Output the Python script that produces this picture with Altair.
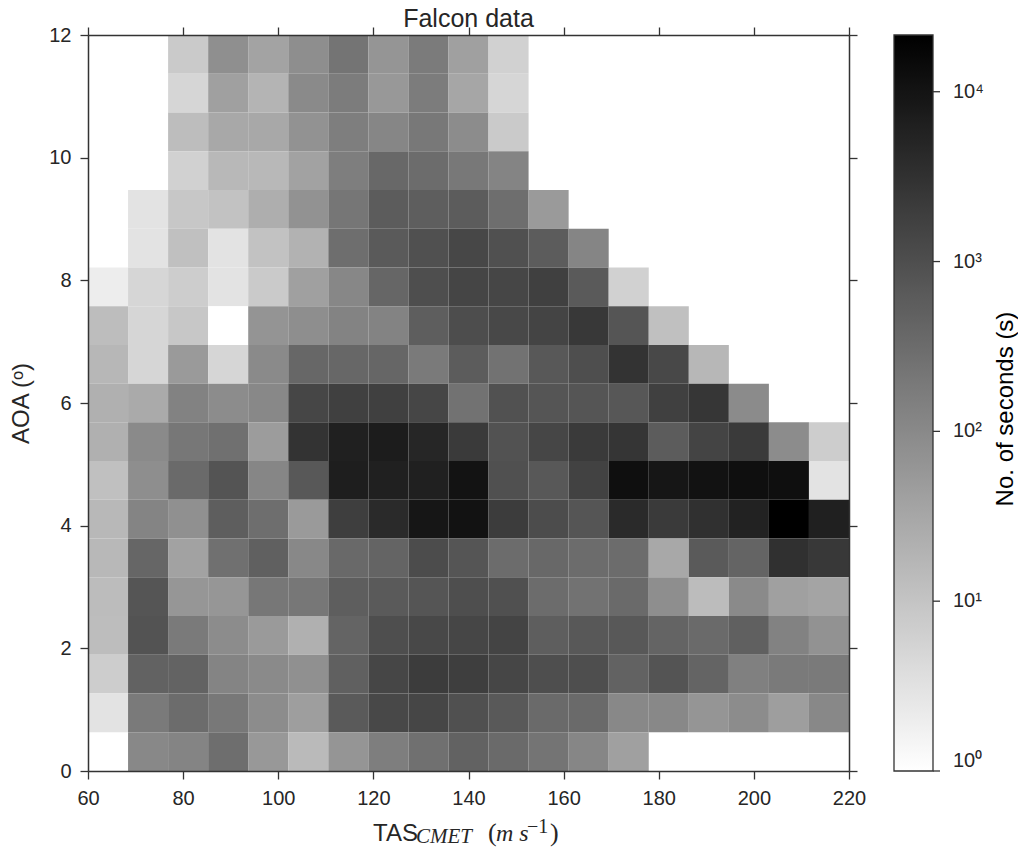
import altair as alt
import numpy as np
import pandas as pd

# ---- data -------------------------------------------------------------
# bin edges of the 2-D histogram (19 x 19 bins)
TAS_EDGES = np.linspace(60, 220, 20)   # m s-1
AOA_EDGES = np.linspace(0, 12, 20)     # degrees

X_TICKS = [60, 80, 100, 120, 140, 160, 180, 200, 220]
Y_TICKS = [0, 2, 4, 6, 8, 10, 12]
CB_TICKS = [1, 10, 100, 1000, 10000]
CB_MAX = 21580

N = None
# No. of seconds per bin; rows listed from the top AOA bin (11.4-12) down to 0-0.63,
# columns from TAS 60 to 220
SECONDS_ROWS = [
    [N, N, 8, 80, 37, 83, 230, 63, 175, 41, 6],
    [N, N, 5, 41, 19, 97, 168, 56, 168, 33, 5],
    [N, N, 13, 30, 30, 71, 156, 114, 197, 90, 8],
    [N, N, 6, 16, 16, 38, 156, 368, 315, 195, 123],
    [N, 3, 9, 11, 24, 71, 213, 589, 545, 589, 291, 52],
    [N, 3, 12, 3, 11, 20, 291, 637, 940, 1340, 940, 589, 118],
    [2, 5, 7, 3, 8, 41, 109, 398, 1020, 1450, 1390, 1760, 637, 6],
    [13, 5, 9, 1, 66, 83, 128, 128, 545, 1050, 1290, 1510, 2410, 775, 12],
    [17, 5, 52, 5, 97, 383, 383, 398, 182, 589, 249, 690, 1020, 2930, 1290, 17],
    [22, 28, 133, 90, 105, 1390, 1760, 1760, 1390, 249, 910, 775, 775, 716, 1760, 2610, 94],
    [22, 97, 205, 269, 48, 2930, 6170, 7210, 4880, 2230, 870, 1390, 2230, 2710, 589, 1510, 2230, 90, 7],
    [12, 83, 341, 810, 114, 690, 6670, 6170, 6170, 10260, 940, 690, 1630, 12000, 9120, 10670, 12000, 12000, 3],
    [16, 123, 77, 545, 291, 52, 1910, 4170, 9120, 10670, 2060, 1100, 775, 4170, 2230, 3300, 5700, 21580, 6170],
    [16, 398, 38, 269, 504, 105, 354, 431, 1100, 775, 315, 368, 315, 315, 30, 637, 431, 3300, 2410],
    [14, 775, 61, 61, 205, 205, 545, 637, 775, 1020, 940, 315, 249, 341, 83, 14, 97, 41, 35],
    [13, 840, 182, 90, 52, 22, 431, 1020, 1290, 1390, 1510, 545, 690, 690, 431, 341, 504, 133, 71],
    [7, 466, 448, 123, 97, 77, 504, 1390, 2060, 1910, 1390, 1020, 1020, 466, 810, 431, 144, 182, 182],
    [3, 182, 315, 197, 90, 45, 637, 1290, 1390, 940, 660, 341, 341, 105, 105, 63, 90, 45, 105],
    [N, 105, 123, 291, 56, 15, 63, 156, 269, 466, 341, 230, 114, 41],
]

nx = len(TAS_EDGES) - 1
ny = len(AOA_EDGES) - 1
records = []
for r, row in enumerate(SECONDS_ROWS):
    j = ny - 1 - r
    row = row + [N] * (nx - len(row))
    for i, v in enumerate(row):
        if v is None:
            continue
        records.append({
            "tas0": TAS_EDGES[i], "tas1": TAS_EDGES[i + 1],
            "aoa0": AOA_EDGES[j], "aoa1": AOA_EDGES[j + 1],
            "seconds": v,
        })
df = pd.DataFrame(records)

# ---- styling ----------------------------------------------------------
FONT = "Liberation Sans"
SERIF = "Liberation Serif"
LINE = "#333333"
TXT = "#262626"

xs = alt.Scale(domain=[60, 220], nice=False, zero=False)
ys = alt.Scale(domain=[0, 12], nice=False, zero=False)
cs = alt.Scale(type="log", domain=[1, CB_MAX], range=["#ffffff", "#000000"],
               interpolate="rgb")

common_axis = dict(grid=False, tickSize=8, tickWidth=1.3, tickColor=LINE,
                   domainColor=LINE, domainWidth=1.5, zindex=1,
                   labelFont=FONT, labelFontSize=20, labelColor=TXT,
                   labelFlush=False, labelOverlap=False)

ax_bottom = alt.Axis(orient="bottom", values=X_TICKS, labelPadding=9, title=None,
                     **common_axis)
ax_left = alt.Axis(orient="left", values=Y_TICKS, labelPadding=9,
                   title="AOA (ᵒ)", titleFont=FONT, titleFontSize=24,
                   titleFontWeight="normal", titleColor=TXT,
                   titleAngle=270, titleBaseline="alphabetic",
                   titleX=-60, titleY=368, titleAlign="center",
                   **common_axis)
ax_top = alt.Axis(orient="top", values=X_TICKS, labels=False, title=None,
                  **common_axis)
ax_right = alt.Axis(orient="right", values=Y_TICKS, labels=False, title=None,
                    **common_axis)

legend = alt.Legend(
    type="gradient",
    orient="none", legendX=806, legendY=0, direction="vertical",
    gradientLength=736, gradientThickness=39,
    gradientStrokeColor=LINE, gradientStrokeWidth=1.3,
    values=CB_TICKS,
    labelExpr="'10' + ['⁰','¹','²','³','⁴'][round(log(datum.value)/LN10)]",
    labelFont=FONT, labelFontSize=20, labelColor=TXT, labelOffset=20,
    labelBaseline="middle", labelOverlap=False,
    title=None, padding=0, offset=0,
)

heat = alt.Chart(df).mark_rect(strokeWidth=0).encode(
    x=alt.X("tas0:Q", scale=xs, axis=ax_bottom),
    x2="tas1:Q",
    y=alt.Y("aoa0:Q", scale=ys, axis=ax_left),
    y2="aoa1:Q",
    color=alt.Color("seconds:Q", scale=cs, legend=legend),
)

frame = alt.Chart(df).mark_rect(opacity=0).encode(
    x=alt.X("tas0:Q", scale=xs, axis=ax_top),
    x2="tas1:Q",
    y=alt.Y("aoa0:Q", scale=ys, axis=ax_right),
    y2="aoa1:Q",
)

# small ticks on the colour bar, placed through a log scale matching the bar
cb_ticks = alt.Chart(pd.DataFrame({"v": CB_TICKS})).mark_rule(
    color=LINE, strokeWidth=1.3
).encode(
    y=alt.Y("v:Q", scale=alt.Scale(type="log", domain=[1, CB_MAX], nice=False),
            axis=None),
    x=alt.value(845), x2=alt.value(852),
)


def label(text, x, y, size, font=FONT, style="normal", angle=0, align="left",
          color=TXT):
    return alt.Chart(pd.DataFrame({"t": [text]})).mark_text(
        font=font, fontSize=size, fontStyle=style, color=color,
        align=align, baseline="alphabetic", angle=angle,
    ).encode(text="t:N", x=alt.value(x), y=alt.value(y))


texts = [
    label("Falcon data", 380.5, -8, 25, align="center"),
    label("TAS", 285, 806, 24),
    label("CMET", 328, 808, 21, SERIF, "italic"),
    label("(", 400, 806, 26, SERIF),
    label("m s", 408, 806, 24, SERIF, "italic"),
    label("−1", 439, 798, 20, SERIF),
    label(")", 462, 806, 26, SERIF),
    label("No. of seconds (s)", 925, 374, 24, angle=270, align="center",
          color="#000000"),
]

chart = alt.layer(heat, frame, cb_ticks, *texts).resolve_axis(
    x="independent", y="independent"
).resolve_scale(y="independent").properties(
    width=761, height=736,
    padding={"left": 80, "top": 27, "right": 169, "bottom": 77},
    autosize=alt.AutoSizeParams(type="none"),
).configure_view(stroke=None).configure(background="white")

chart.save("out.html", embed_options={"renderer": "svg", "actions": False})
